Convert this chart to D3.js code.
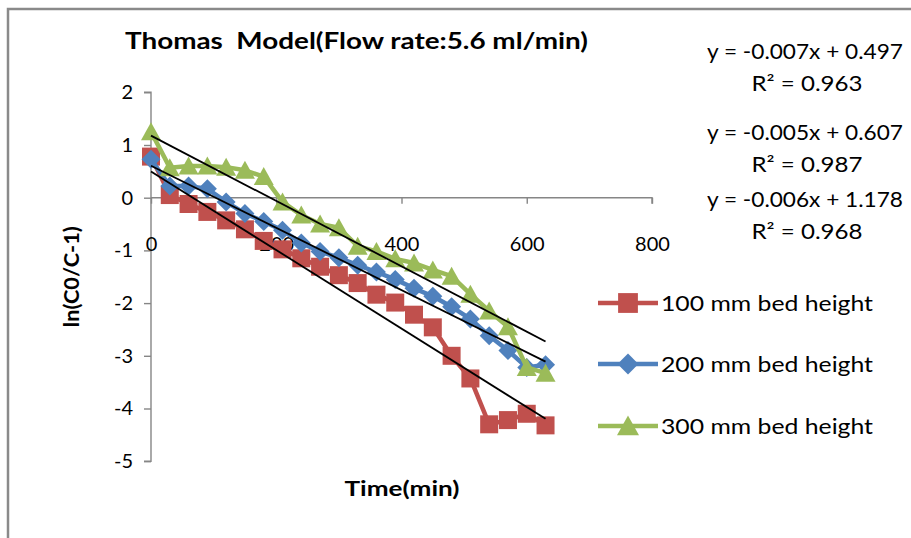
<!DOCTYPE html>
<html>
<head>
<meta charset="utf-8">
<script src="https://cdn.jsdelivr.net/npm/d3@7"></script>
<style>
  body { margin: 0; background: #fff; }
  svg text { font-family: Lato, "Open Sans", sans-serif; fill: #000; }
</style>
</head>
<body>
<svg id="chart" width="911" height="538"></svg>
<script>
// Sampling times (min)
const timeMin = [0, 30, 60, 90, 120, 150, 180, 210, 240, 270, 300, 330, 360, 390, 420, 450, 480, 510, 540, 570, 600, 630];
// ln(C0/C - 1) for each bed height
const bed100 = [0.78, 0.05, -0.12, -0.27, -0.43, -0.60, -0.82, -0.98, -1.15, -1.31, -1.47, -1.62, -1.84, -1.99, -2.22, -2.46, -3.00, -3.43, -4.30, -4.22, -4.10, -4.32];
const bed200 = [0.73, 0.22, 0.22, 0.17, -0.08, -0.30, -0.45, -0.62, -0.86, -1.02, -1.14, -1.28, -1.41, -1.55, -1.72, -1.87, -2.07, -2.30, -2.62, -2.90, -3.22, -3.17];
const bed300 = [1.25, 0.57, 0.60, 0.60, 0.58, 0.52, 0.40, -0.08, -0.33, -0.50, -0.57, -0.92, -1.02, -1.16, -1.24, -1.37, -1.49, -1.83, -2.15, -2.45, -3.22, -3.33];

const seriesNames = ["100 mm bed height", "200 mm bed height", "300 mm bed height"];
const seriesColors = ["#C0504D", "#4F81BD", "#9BBB59"];
const markerShapes = ["square", "diamond", "triangle"];

// Linear trendlines (slope per min, intercept)
const trendSlope = [-0.00745, -0.0059, -0.0062];
const trendIntercept = [0.497, 0.607, 1.178];
const equationLabels = ["y = -0.007x + 0.497", "y = -0.005x + 0.607", "y = -0.006x + 1.178"];
const r2Labels = ["R\u00B2 = 0.963", "R\u00B2 = 0.987", "R\u00B2 = 0.968"];

const xTicks = [0, 200, 400, 600, 800];
const yTicks = [2, 1, 0, -1, -2, -3, -4, -5];

const titleText = "Thomas  Model(Flow rate:5.6 ml/min)";
const xTitle = "Time(min)";
const yTitle = "ln(C0/C-1)";

const svg = d3.select("#chart");

// chart-area frame
svg.append("rect")
  .attr("x", 8).attr("y", 9).attr("width", 920).attr("height", 560)
  .attr("fill", "#fff").attr("stroke", "#8a8a8a").attr("stroke-width", 2.5);

const x = d3.scaleLinear().domain([0, 800]).range([151, 652]);
const y = d3.scaleLinear().domain([-5, 2]).range([461.2, 92.3]);
const axisColor = "#868686";

// y axis
const gy = svg.append("g").attr("transform", `translate(${x(0)},0)`)
  .call(d3.axisLeft(y).tickValues(yTicks).tickSize(7).tickPadding(11).tickFormat(d => String(d)));
// x axis along y = 0
const gx = svg.append("g").attr("transform", `translate(0,${y(0)})`)
  .call(d3.axisBottom(x).tickValues(xTicks).tickSize(6).tickPadding(33).tickFormat(d => String(d)));

[gx, gy].forEach(g => {
  g.select(".domain").attr("stroke", axisColor).attr("stroke-width", 1.4);
  g.selectAll(".tick line").attr("stroke", axisColor).attr("stroke-width", 1.4);
  g.selectAll(".tick text").attr("font-size", 20).attr("font-family", "Lato, sans-serif").attr("fill", "#000");
});
gy.select(".domain").attr("d", `M-7,${y(2)}H0V${y(-5)}H-7`);
gx.select(".domain").attr("d", `M${x(0)},0H${x(800)}V6`);

function markerPath(shape) {
  if (shape === "square") return "M-9,-9H9V9H-9Z";
  if (shape === "diamond") return "M0,-9.5L9.5,0L0,9.5L-9.5,0Z";
  return "M0,-9.5L10,8.5L-10,8.5Z";
}

const allSeries = [bed100, bed200, bed300];
const line = d3.line().x(d => x(d[0])).y(d => y(d[1]));

allSeries.forEach((vals, i) => {
  const pts = timeMin.map((t, k) => [t, vals[k]]);
  const g = svg.append("g");
  g.append("path").attr("d", line(pts)).attr("fill", "none")
    .attr("stroke", seriesColors[i]).attr("stroke-width", 4.5).attr("stroke-linejoin", "round");
  g.selectAll("path.mk").data(pts).join("path").attr("class", "mk")
    .attr("d", markerPath(markerShapes[i]))
    .attr("transform", d => `translate(${x(d[0])},${y(d[1])})`)
    .attr("fill", seriesColors[i]);
});

// trendlines over the sampled range
trendSlope.forEach((m, i) => {
  const x0 = timeMin[0], x1 = timeMin[timeMin.length - 1];
  svg.append("line")
    .attr("x1", x(x0)).attr("y1", y(trendIntercept[i] + m * x0))
    .attr("x2", x(x1)).attr("y2", y(trendIntercept[i] + m * x1))
    .attr("stroke", "#000").attr("stroke-width", 1.8);
});

// title
svg.append("text").attr("x", 125).attr("y", 49)
  .attr("font-size", 23).attr("font-weight", "bold")
  .style("white-space", "pre")
  .attr("textLength", 463).attr("lengthAdjust", "spacingAndGlyphs")
  .text(titleText);

// axis titles
svg.append("text").attr("x", 402).attr("y", 496).attr("text-anchor", "middle")
  .attr("font-size", 20).attr("font-weight", "bold")
  .attr("textLength", 115).attr("lengthAdjust", "spacingAndGlyphs")
  .text(xTitle);
svg.append("text").attr("transform", `translate(79,${(y(2) + y(-5)) / 2}) rotate(-90)`)
  .attr("text-anchor", "middle").attr("font-size", 20).attr("font-weight", "bold")
  .attr("textLength", 101).attr("lengthAdjust", "spacingAndGlyphs")
  .text(yTitle);

// trendline equations
const eqBase = [59, 140, 207];
equationLabels.forEach((t, i) => {
  svg.append("text").attr("x", 805).attr("y", eqBase[i]).attr("text-anchor", "middle")
    .attr("font-size", 21).attr("textLength", 196).attr("lengthAdjust", "spacingAndGlyphs").text(t);
  svg.append("text").attr("x", 807).attr("y", eqBase[i] + 32).attr("text-anchor", "middle")
    .attr("font-size", 21).attr("textLength", 111).attr("lengthAdjust", "spacingAndGlyphs").text(r2Labels[i]);
});

// legend
const legendY = [303, 364, 426];
seriesNames.forEach((name, i) => {
  const g = svg.append("g").attr("transform", `translate(0,${legendY[i]})`);
  g.append("line").attr("x1", 598).attr("x2", 658).attr("y1", 0).attr("y2", 0)
    .attr("stroke", seriesColors[i]).attr("stroke-width", 4.5);
  g.append("path").attr("d", markerPath(markerShapes[i])).attr("transform", "translate(628,0) scale(1.1)")
    .attr("fill", seriesColors[i]);
  g.append("text").attr("x", 661).attr("y", 8).attr("font-size", 21)
    .attr("textLength", 212).attr("lengthAdjust", "spacingAndGlyphs").text(name);
});
</script>
</body>
</html>
